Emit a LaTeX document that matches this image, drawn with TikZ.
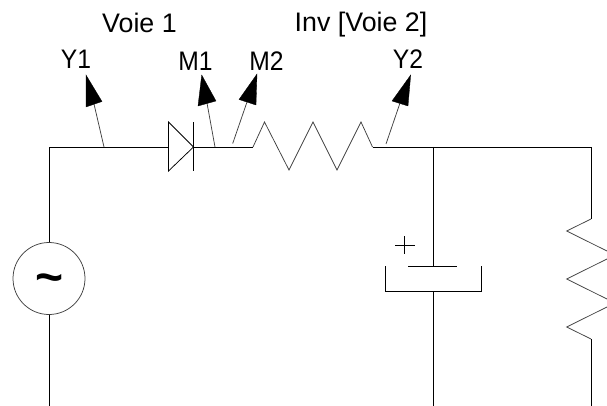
\documentclass[tikz,border=0pt]{standalone}
\usepackage{fontspec}
\setmainfont{Liberation Sans}
\tikzset{
  wire/.style={line width=0.95pt,black},
  thin wire/.style={line width=0.75pt,black!75},
  lbl/.style={inner sep=0pt,anchor=base,font=\fontsize{26.8}{30}\selectfont,text=black},
  head/.style={fill=black,draw=black,line width=0.3pt,line join=miter},
}
\newcommand{\narrow}[1]{\scalebox{0.92}[1]{#1}}
\begin{document}
\begin{tikzpicture}[x=1pt,y=-1pt]
\useasboundingbox (0,0) rectangle (607,406);
\clip (0,0) rectangle (607,406);
% junctions and terminals
\coordinate (corner) at (49,147);
\coordinate (srcBottomEnd) at (49,406);
\coordinate (tapY1) at (104,147);
\coordinate (tapM1) at (215,147);
\coordinate (tapM2) at (232.7,143.5);
\coordinate (tapY2) at (386,144);
\coordinate (d1) at (168.5,122);
\coordinate (d2) at (193.5,147);
\coordinate (d3) at (168.5,171);
\coordinate (barTop) at (193.5,122.5);
\coordinate (barBot) at (193.5,171);
\coordinate (dIn) at (168.5,147);
\coordinate (rIn) at (253,147);
\coordinate (rOut) at (372.5,147);
\coordinate (capJ) at (433,147);
\coordinate (capTop) at (433,266.5);
\coordinate (capBot) at (433,291);
\coordinate (capEnd) at (433,406);
\coordinate (rCorner) at (591,147);
\coordinate (r2In) at (591,219);
\coordinate (r2Out) at (591,339);
\coordinate (r2End) at (591,406);
% source
\node[circle,draw=black!75,line width=0.75pt,minimum size=72pt,inner sep=0pt] (src) at (49,278.5) {};
\node[inner sep=0pt,font=\fontsize{48}{48}\selectfont\bfseries] (tilde) at (49.5,284) {\char`\~};
% wires
\draw[wire] (src.north) -- (corner) -- (dIn);
\draw[wire] (src.south) -- (srcBottomEnd);
\draw[wire] (d2) -- (rIn);
\draw[wire] (rOut) -- (rCorner) -- (r2In);
\draw[wire] (r2Out) -- (r2End);
\draw[wire] (capJ) -- (capTop);
\draw[wire] (capBot) -- (capEnd);
% diode
\draw[thin wire,black] (d1) -- (d2) -- (d3) -- cycle;
\draw[thin wire,black] (barTop) -- (barBot);
% series resistor
\draw[thin wire,line join=miter] (rIn) -- (264.5,122) -- (289,170) -- (313,122) -- (337,170) -- (361,122) -- (rOut);
% load resistor
\draw[thin wire,line join=miter] (r2In) -- (566.7,231) -- (615,255) -- (566.7,279) -- (615,303) -- (566.7,327) -- (r2Out);
% capacitor
\draw[wire] (408,266.5) -- (457,266.5);
\draw[wire] (385.3,266) -- (385.3,291) -- (481,291) -- (481,266);
\draw[line width=0.8pt] (395,245) -- (415,245) (404.7,236) -- (404.7,254);
% probes
\coordinate (tipY1) at (86,75);
\coordinate (tipM1) at (201.7,75);
\coordinate (tipM2) at (257,74);
\coordinate (tipY2) at (410.7,75);
\draw[thin wire] (tapY1) -- (94,104);
\draw[thin wire] (tapM1) -- (207,103);
\draw[thin wire] (tapM2) -- (247,102);
\draw[thin wire] (tapY2) -- (400,103);
\fill[head] (tipY1) -- (102,101.5) -- (86,107) -- cycle;
\fill[head] (tipM1) -- (216,101) -- (198,106) -- cycle;
\fill[head] (tipM2) -- (256,105) -- (239,99.5) -- cycle;
\fill[head] (tipY2) -- (408,106) -- (392,101) -- cycle;
% labels
\node[lbl] (voie1) at (139.5,33) {Voie 1};
\node[lbl] (voie2) at (361,32) {Inv [Voie 2]};
\node[lbl] (y1) at (76,69) {\narrow{Y1}};
\node[lbl] (m1) at (195.5,70.5) {\narrow{M1}};
\node[lbl] (m2) at (266.5,70.5) {\narrow{M2}};
\node[lbl] (y2) at (408,69) {\narrow{Y2}};
\end{tikzpicture}
\end{document}
